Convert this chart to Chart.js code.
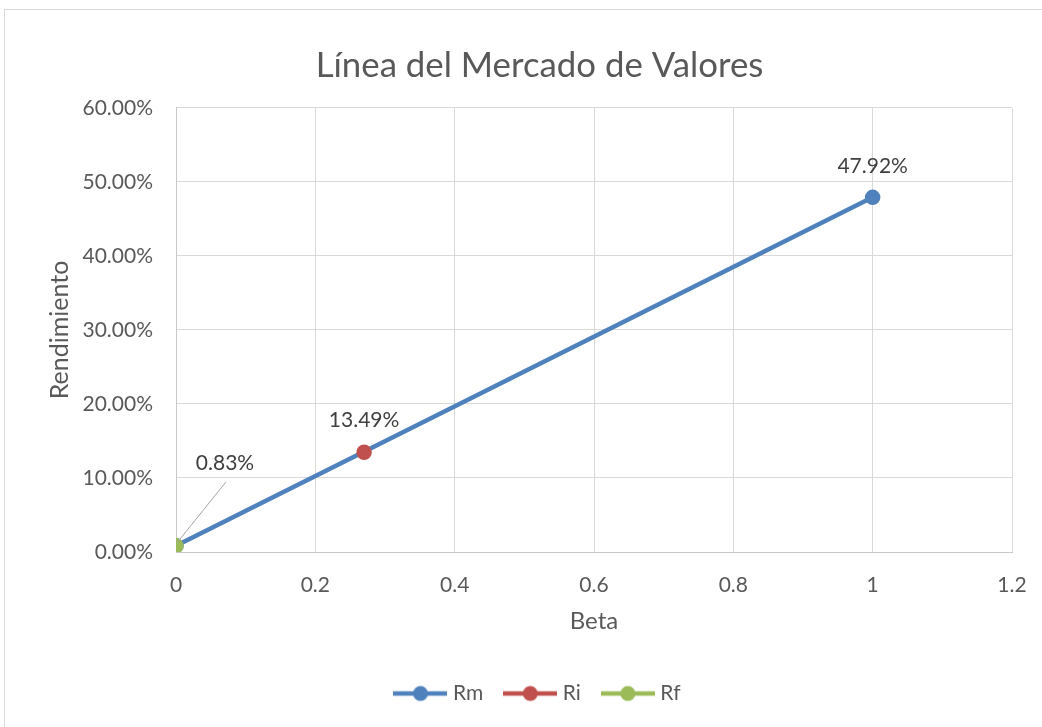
<!DOCTYPE html>
<html>
<head>
<meta charset="utf-8">
<title>Línea del Mercado de Valores</title>
<script src="https://cdn.jsdelivr.net/npm/chart.js@4/dist/chart.umd.min.js"></script>
<style>
  html, body { margin: 0; padding: 0; background: #ffffff; }
  canvas { display: block; }
</style>
</head>
<body>
<canvas id="sml" width="1042" height="727"></canvas>
<script>
// Security Market Line: beta vs. expected return (in percent)
const seriesNames = ['Rm', 'Ri', 'Rf'];
const seriesColors = ['#4F81BD', '#C0504D', '#9BBB59'];

// Rm: line from the risk-free rate (beta 0) to the market (beta 1)
const rmBeta = [0, 1];
const rmReturn = [0.83, 47.92];
// Ri: the asset on the line
const riBeta = [0.27];
const riReturn = [13.49];
// Rf: risk-free rate
const rfBeta = [0];
const rfReturn = [0.83];

// Axis ticks
const xTicks = [0, 0.2, 0.4, 0.6, 0.8, 1, 1.2];
const yTicks = [0, 10, 20, 30, 40, 50, 60];

const toPoints = (xs, ys) => xs.map((x, i) => ({ x: x, y: ys[i] }));

const TEXT = '#595959';
const GRID = '#d9d9d9';
const FONT = 'Lato';

Chart.defaults.font.family = FONT;
Chart.defaults.color = TEXT;

// Value labels: which point of which series, and where the text sits
const labelSpecs = [
  { dataset: 0, index: 1, dx: 0, dy: -31.5 },
  { dataset: 1, index: 0, dx: 0, dy: -32 },
  { dataset: 2, index: 0, dx: 49, dy: -83, leader: true }
];

// Legend icons: a short line with a round marker in the middle
function legendIcon(color) {
  const c = document.createElement('canvas');
  c.width = 54; c.height = 18;
  const g = c.getContext('2d');
  g.strokeStyle = color;
  g.lineWidth = 4.5;
  g.beginPath(); g.moveTo(0, 9); g.lineTo(54, 9); g.stroke();
  g.fillStyle = color;
  g.beginPath(); g.arc(27, 9, 7.5, 0, Math.PI * 2); g.fill();
  return c;
}
const legendIcons = seriesColors.map(legendIcon);

const frame = {
  id: 'frame',
  beforeDraw(chart) {
    const ctx = chart.ctx;
    ctx.save();
    ctx.fillStyle = '#ffffff';
    ctx.fillRect(0, 0, chart.width, chart.height);
    ctx.strokeStyle = GRID;
    ctx.lineWidth = 1;
    ctx.strokeRect(4.5, 9.5, chart.width + 20, chart.height + 20);
    ctx.restore();
  }
};

const pointLabels = {
  id: 'pointLabels',
  afterDatasetsDraw(chart) {
    const ctx = chart.ctx;
    const xs = chart.scales.x, ys = chart.scales.y;
    ctx.save();
    ctx.font = '21px ' + FONT;
    ctx.fillStyle = '#404040';
    ctx.textAlign = 'center';
    ctx.textBaseline = 'middle';
    labelSpecs.forEach(spec => {
      const pt = chart.data.datasets[spec.dataset].data[spec.index];
      const px = xs.getPixelForValue(pt.x);
      const py = ys.getPixelForValue(pt.y);
      const lx = px + spec.dx, ly = py + spec.dy;
      if (spec.leader) {
        ctx.strokeStyle = '#a6a6a6';
        ctx.lineWidth = 1;
        ctx.beginPath();
        ctx.moveTo(lx + 1, ly + 19);
        ctx.lineTo(px + 1, py - 3);
        ctx.stroke();
      }
      ctx.fillText(pt.y.toFixed(2) + '%', lx, ly);
    });
    ctx.restore();
  }
};

const series = [
  toPoints(rmBeta, rmReturn),
  toPoints(riBeta, riReturn),
  toPoints(rfBeta, rfReturn)
];

new Chart(document.getElementById('sml'), {
  type: 'scatter',
  data: {
    datasets: series.map((pts, i) => ({
      label: seriesNames[i],
      data: pts,
      showLine: i === 0,
      borderColor: seriesColors[i],
      backgroundColor: seriesColors[i],
      borderWidth: 4.5,
      pointRadius: 7,
      pointBorderWidth: 1.5,
      pointBorderColor: seriesColors[i],
      pointBackgroundColor: seriesColors[i],
      order: seriesNames.length - i
    }))
  },
  options: {
    responsive: false,
    animation: false,
    events: [],
    layout: { padding: { left: 37, right: 0, top: 0, bottom: 13 } },
    plugins: {
      title: {
        display: true,
        text: 'Línea del Mercado de Valores',
        color: TEXT,
        font: { size: 34.8, weight: 'normal' },
        padding: { top: 45, bottom: 21.2 }
      },
      legend: {
        position: 'bottom',
        labels: {
          usePointStyle: true,
          pointStyleWidth: 44,
          padding: 25,
          color: TEXT,
          font: { size: 21 },
          generateLabels: chart => chart.data.datasets.map((ds, i) => ({
            text: ds.label,
            pointStyle: legendIcons[i],
            fontColor: TEXT,
            fillStyle: 'transparent',
            strokeStyle: 'transparent',
            lineWidth: 0,
            hidden: false,
            datasetIndex: i
          }))
        }
      },
      tooltip: { enabled: false }
    },
    scales: {
      x: {
        type: 'linear',
        position: 'bottom',
        min: xTicks[0],
        max: xTicks[xTicks.length - 1],
        afterBuildTicks: s => { s.ticks = xTicks.map(v => ({ value: v })); },
        ticks: {
          autoSkip: false,
          maxRotation: 0,
          padding: 0,
          color: TEXT,
          font: { size: 21 },
          callback: v => String(+v.toFixed(1))
        },
        // invisible tick marks give the gap between the axis and its labels
        grid: { color: GRID, lineWidth: 1, drawTicks: true, tickLength: 20.5, tickColor: 'rgba(0,0,0,0)' },
        border: { color: '#c8c8c8', width: 1 },
        title: {
          display: true,
          text: 'Beta',
          color: TEXT,
          font: { size: 24 },
          padding: { top: 0, bottom: 22.5 }
        },
        afterFit: s => { s.height = 106; }
      },
      y: {
        type: 'linear',
        position: 'left',
        min: yTicks[0],
        max: yTicks[yTicks.length - 1],
        afterBuildTicks: s => { s.ticks = yTicks.map(v => ({ value: v })); },
        ticks: {
          padding: 23,
          color: TEXT,
          font: { size: 21 },
          callback: v => v.toFixed(2) + '%'
        },
        grid: { color: GRID, lineWidth: 1, drawTicks: false },
        border: { color: '#c8c8c8', width: 1 },
        title: {
          display: true,
          text: 'Rendimiento',
          color: TEXT,
          font: { size: 25 },
          padding: { top: 7.5, bottom: 0 }
        },
        afterFit: s => { s.width = 139; }
      },
      // empty right-hand margin box
      yRight: {
        type: 'linear',
        position: 'right',
        display: true,
        ticks: { display: false },
        grid: { display: false },
        border: { display: false },
        afterFit: s => { s.width = 30; }
      }
    }
  },
  plugins: [frame, pointLabels]
});
</script>
</body>
</html>
